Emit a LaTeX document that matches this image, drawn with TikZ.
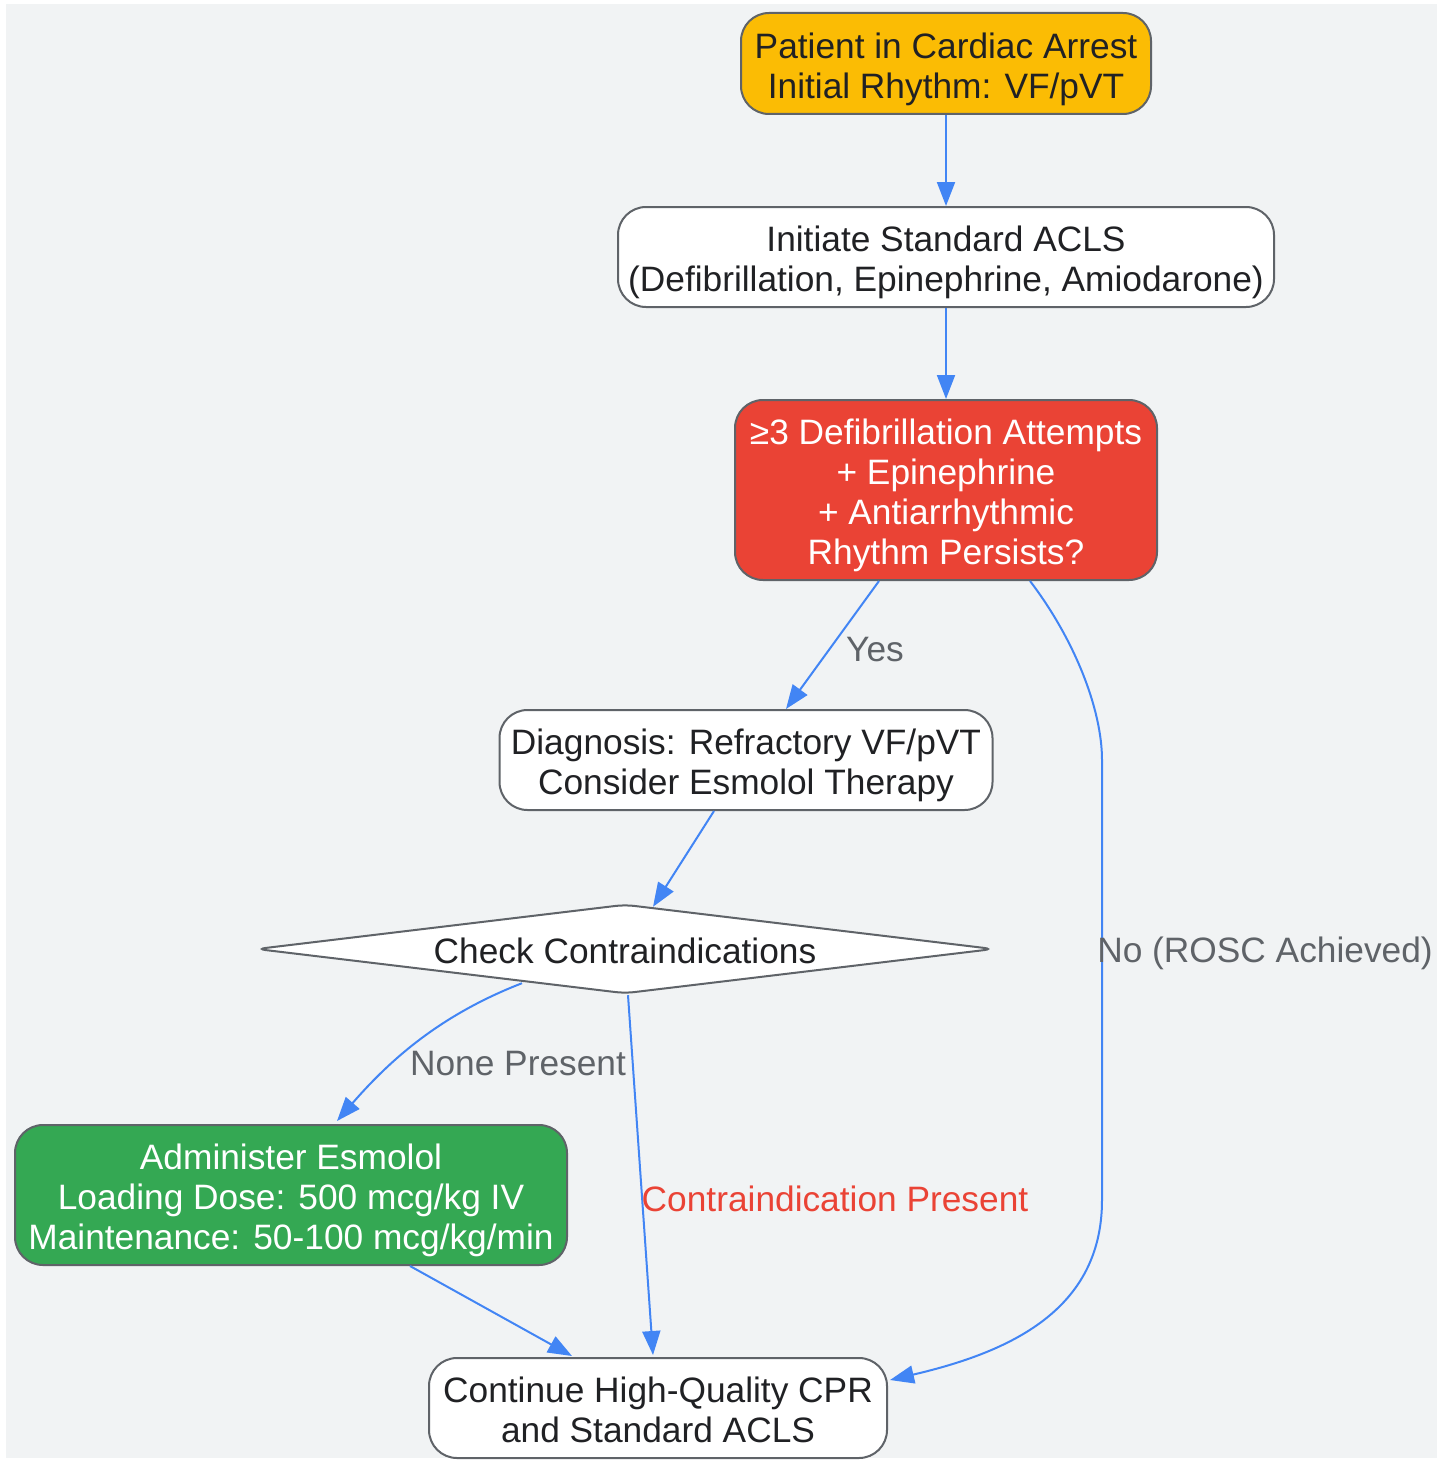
\documentclass[tikz,border=0pt]{standalone}
\usepackage{fontspec}
\setmainfont{Liberation Sans}
\usetikzlibrary{arrows.meta,calc}
\definecolor{bgc}{HTML}{F1F3F4}
\definecolor{bordc}{HTML}{5F6368}
\definecolor{txtc}{HTML}{202124}
\definecolor{yelc}{HTML}{FBBC04}
\definecolor{redc}{HTML}{EA4335}
\definecolor{grnc}{HTML}{34A853}
\definecolor{bluc}{HTML}{4285F4}
\tikzset{
  box/.style={draw=bordc, line width=2pt, rounded corners=28pt, fill=white, inner sep=0pt},
  btxt/.style={align=center, text=txtc, font=\fontsize{35.3}{40}\selectfont, inner sep=0pt},
  conn/.style={draw=bluc, line width=2pt, -{Triangle[length=24pt,width=18pt]}},
  elabel/.style={text=bordc, font=\fontsize{35.3}{40}\selectfont, inner sep=0pt}
}
\begin{document}
\begin{tikzpicture}[x=1pt,y=-1pt]
\useasboundingbox (0,0) rectangle (1446,1461);
\fill[bgc] (6,4) rectangle (1437,1458);

\node[box, fill=yelc, minimum width=410pt, minimum height=101pt] (n1) at (946,63.5) {};
\node[btxt] (n1t) at ($(n1.center)+(0,5.5)$) {Patient in Cardiac Arrest\\Initial Rhythm: VF/pVT};
\node[box, minimum width=656pt, minimum height=100pt] (n2) at (946,257) {};
\node[btxt] (n2t) at ($(n2.center)+(0,5)$) {Initiate Standard ACLS\\(Defibrillation, Epinephrine, Amiodarone)};
\node[box, fill=redc, minimum width=422pt, minimum height=180pt] (n3) at (946,490) {};
\node[btxt, text=white] (n3t) at ($(n3.center)+(0,5)$) {≥3 Defibrillation Attempts\\+ Epinephrine\\+ Antiarrhythmic\\Rhythm Persists?};
\node[box, minimum width=493pt, minimum height=100pt] (n4) at (746,760) {};
\node[btxt] (n4t) at ($(n4.center)+(0,5)$) {Diagnosis: Refractory VF/pVT\\Consider Esmolol Therapy};
\node[minimum width=736pt, minimum height=88pt, inner sep=0pt] (d) at (625,949) {};
\filldraw[fill=white, draw=bordc, line width=2pt, rounded corners=9pt]
  (d.north) -- (d.east) -- (d.south) -- (d.west) -- cycle;
\node[btxt] (dt) at ($(d.center)+(0,2)$) {Check Contraindications};
\node[box, fill=grnc, minimum width=552pt, minimum height=140pt] (n6) at (291,1195) {};
\node[btxt, text=white] (n6t) at ($(n6.center)+(0,5)$) {Administer Esmolol\\Loading Dose: 500 mcg/kg IV\\Maintenance: 50-100 mcg/kg/min};
\node[box, minimum width=458pt, minimum height=100pt] (n7) at (658,1408) {};
\node[btxt] (n7t) at ($(n7.center)+(0,2)$) {Continue High-Quality CPR\\and Standard ACLS};

\draw[conn] (n1.south) -- (n2.north);
\draw[conn] (n2.south) -- (n3.north);
\draw[conn] ($(n3.south)+(-67,0)$) -- ($(n4.north)+(40,0)$);
\draw[conn] ($(n3.south)+(84,0)$) .. controls (1075,640) and (1102,710) .. (1102,760)
  -- (1102,1200) .. controls (1102,1310) and (1010,1352) .. ($(n7.east)+(2,-28)$);
\draw[conn] ($(n4.south)+(-32,0)$) -- ($(d.north)+(28,2)$);
\draw[conn] ($(d.south)+(-103,-10)$) .. controls (440,1015) and (390,1060) .. ($(n6.north)+(46,-3)$);
\draw[conn] ($(d.south)+(3,2)$) -- ($(n7.north)+(-5,-2)$);
\draw[conn] ($(n6.south)+(119,0)$) -- ($(n7.north)+(-86,-1)$);

\node[elabel] (l1) at (875,650) {Yes};
\node[elabel] (l2) at (1265,953) {No (ROSC Achieved)};
\node[elabel] (l3) at (518,1064) {None Present};
\node[elabel, text=redc] (l4) at (835,1199) {Contraindication Present};
\end{tikzpicture}
\end{document}
